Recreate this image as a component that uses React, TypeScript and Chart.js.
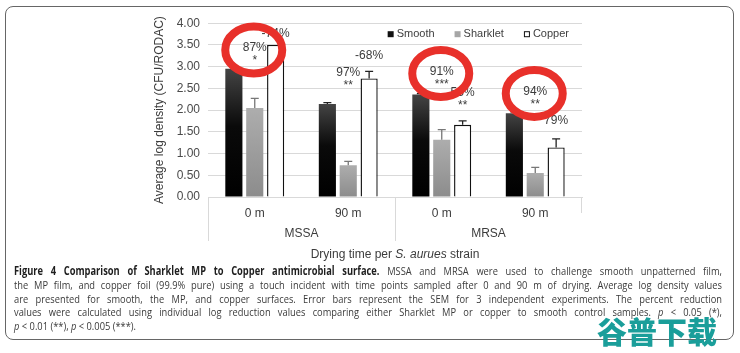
import React, { useEffect, useRef } from "react";
import { Chart, registerables } from "chart.js";

Chart.register(...registerables);

const FONT = "'Liberation Sans', Arial, Helvetica, sans-serif";

// ---------- data ----------
const categories = ["0 m", "90 m", "0 m", "90 m"];
const strains = ["MSSA", "MRSA"];
const seriesNames = ["Smooth", "Sharklet", "Copper"];

const smooth = [2.95, 2.14, 2.36, 1.93];
const smoothErr = [0.04, 0.03, 0.02, 0.03];
const sharklet = [2.05, 0.73, 1.32, 0.55];
const sharkletErr = [0.22, 0.09, 0.23, 0.13];
const copper = [3.5, 2.73, 1.66, 1.14];
const copperErr = [0.0, 0.16, 0.09, 0.2];

// percent-reduction notes (text) and the axis value where each note sits
const sharkletNotes = [["87%", "*"], ["97%", "**"], ["91%", "***"], ["94%", "**"]];
const sharkletNoteLevel = [3.43, 2.86, 2.89, 2.43];
const copperNotes = [["-74%"], ["-68%"], ["53%", "**"], ["79%"]];
const copperNoteLevel = [3.75, 3.25, 2.39, 1.75];
const circledGroups = [0, 2, 3];

const yMin = 0;
const yMax = 4;
const yStep = 0.5;

const xTitleParts = [
  { text: "Drying time per ", italic: false },
  { text: "S. aurues", italic: true },
  { text: " strain", italic: false },
];

const captionLines = [
  [
    { b: true, t: "Figure 4 Comparison of Sharklet MP to Copper antimicrobial surface." },
    { t: " MSSA and MRSA were used to challenge smooth unpatterned film," },
  ],
  [{ t: "the MP film, and copper foil (99.9% pure) using a touch incident with time points sampled after 0 and 90 m of drying. Average log density values" }],
  [{ t: "are presented for smooth, the MP, and copper surfaces. Error bars represent the SEM for 3 independent experiments. The percent reduction" }],
  [
    { t: "values were calculated using individual log reduction values comparing either Sharklet MP or copper to smooth control samples. " },
    { i: true, t: "p" },
    { t: " < 0.05 (*)," },
  ],
  [
    { i: true, t: "p" },
    { t: " < 0.01 (**), " },
    { i: true, t: "p" },
    { t: " < 0.005 (***)." },
  ],
];

// ---------- helpers ----------
function smoothFill(c: any) {
  if (c.type !== "data") return "#151515";
  const chart = c.chart;
  const ys = chart.scales && chart.scales.y;
  if (!ys) return "#151515";
  const top = ys.getPixelForValue(c.raw);
  const bot = ys.getPixelForValue(0);
  if (!isFinite(top) || !isFinite(bot) || top === bot) return "#151515";
  const g = chart.ctx.createLinearGradient(0, top, 0, bot);
  g.addColorStop(0, "#444444");
  g.addColorStop(0.45, "#0a0a0a");
  g.addColorStop(1, "#000000");
  return g;
}

function sharkletFill(c: any) {
  if (c.type !== "data") return "#a0a0a0";
  const chart = c.chart;
  const ys = chart.scales && chart.scales.y;
  if (!ys) return "#a0a0a0";
  const top = ys.getPixelForValue(c.raw);
  const bot = ys.getPixelForValue(0);
  if (!isFinite(top) || !isFinite(bot) || top === bot) return "#a0a0a0";
  const g = chart.ctx.createLinearGradient(0, top, 0, bot);
  g.addColorStop(0, "#adadad");
  g.addColorStop(1, "#8c8c8c");
  return g;
}

const legendFills = ["#111111", "#a6a6a6", "#ffffff"];

const decorPlugin = {
  id: "decor",
  afterDatasetsDraw(chart: any) {
    const ctx = chart.ctx;
    const ys = chart.scales.y;
    const errs = [smoothErr, sharkletErr, copperErr];
    const colors = ["#222222", "#777777", "#222222"];
    chart.data.datasets.forEach((ds: any, di: number) => {
      const meta = chart.getDatasetMeta(di);
      meta.data.forEach((bar: any, i: number) => {
        const e = errs[di][i];
        if (!e) return;
        const v = ds.data[i];
        const x = bar.x;
        const y0 = ys.getPixelForValue(v);
        const y1 = ys.getPixelForValue(v + e);
        ctx.save();
        ctx.strokeStyle = colors[di];
        ctx.lineWidth = 1.3;
        ctx.beginPath();
        ctx.moveTo(x, y0);
        ctx.lineTo(x, y1);
        ctx.moveTo(x - 4, y1);
        ctx.lineTo(x + 4, y1);
        ctx.stroke();
        ctx.restore();
      });
    });
  },
  afterDraw(chart: any) {
    const ctx = chart.ctx;
    const ys = chart.scales.y;
    const xs = chart.scales.x;
    const x2 = chart.scales.x2;
    const area = chart.chartArea;

    // legend (right aligned, inside the plot area)
    ctx.save();
    ctx.font = `11px ${FONT}`;
    ctx.textBaseline = "middle";
    ctx.textAlign = "left";
    const names = chart.data.datasets.map((d: any) => d.label as string);
    const box = 6;
    const gapBox = 3;
    const gapItem = 20;
    const widths = names.map((n: string) => box + gapBox + ctx.measureText(n).width);
    const totalW = widths.reduce((a: number, b: number) => a + b, 0) + gapItem * (names.length - 1);
    let lx = area.right - 13 - totalW;
    const ly = area.top + 11;
    names.forEach((n: string, i: number) => {
      ctx.fillStyle = legendFills[i];
      ctx.fillRect(lx, ly - box / 2, box, box);
      if (i === 2) {
        ctx.strokeStyle = "#111111";
        ctx.lineWidth = 1;
        ctx.strokeRect(lx + 0.5, ly - box / 2 + 0.5, box - 1, box - 1);
      }
      ctx.fillStyle = "#404040";
      ctx.fillText(n, lx + box + gapBox, ly);
      lx += widths[i] + gapItem;
    });
    ctx.restore();

    // notes
    const drawNotes = (di: number, notes: string[][], levels: number[]) => {
      const meta = chart.getDatasetMeta(di);
      notes.forEach((lines, i) => {
        const bar = meta.data[i];
        const y = ys.getPixelForValue(levels[i]);
        ctx.save();
        ctx.fillStyle = "#3c3c3c";
        ctx.font = `12px ${FONT}`;
        ctx.textAlign = "center";
        ctx.textBaseline = "middle";
        lines.forEach((t, li) => {
          ctx.fillText(t, bar.x, y + li * 13);
        });
        ctx.restore();
      });
    };
    drawNotes(1, sharkletNotes, sharkletNoteLevel);
    drawNotes(2, copperNotes, copperNoteLevel);

    // red circles
    const sm = chart.getDatasetMeta(1);
    circledGroups.forEach((g) => {
      const bar = sm.data[g];
      const cx = bar.x - 1;
      const cy = ys.getPixelForValue(sharkletNoteLevel[g]) + 2;
      ctx.save();
      ctx.strokeStyle = "#e8302a";
      ctx.lineWidth = 8;
      ctx.beginPath();
      ctx.ellipse(cx, cy, 28.5, 23.5, 0, 0, Math.PI * 2);
      ctx.stroke();
      ctx.restore();
    });

    // group separators on the category axis
    const mid = (xs.getPixelForValue(1) + xs.getPixelForValue(2)) / 2;
    ctx.save();
    ctx.strokeStyle = "#d9d9d9";
    ctx.lineWidth = 1;
    ctx.beginPath();
    ctx.moveTo(xs.left + 0.5, xs.top);
    ctx.lineTo(xs.left + 0.5, x2.bottom - 4);
    ctx.moveTo(Math.round(mid) + 0.5, xs.top);
    ctx.lineTo(Math.round(mid) + 0.5, x2.bottom - 4);
    ctx.moveTo(xs.right - 0.5, xs.top);
    ctx.lineTo(xs.right - 0.5, xs.bottom - 10);
    ctx.stroke();
    ctx.restore();

    // x axis title with italic part
    ctx.save();
    ctx.fillStyle = "#3c3c3c";
    ctx.textBaseline = "middle";
    ctx.textAlign = "left";
    const tw = xTitleParts.map((p) => {
      ctx.font = `${p.italic ? "italic " : ""}12px ${FONT}`;
      return ctx.measureText(p.text).width;
    });
    const total = tw.reduce((a, b) => a + b, 0);
    let cx = (area.left + area.right) / 2 - total / 2;
    const ty = x2.bottom + 10;
    xTitleParts.forEach((p, i) => {
      ctx.font = `${p.italic ? "italic " : ""}12px ${FONT}`;
      ctx.fillText(p.text, cx, ty);
      cx += tw[i];
    });
    ctx.restore();
  },
};

export default function App() {
  const canvasRef = useRef<HTMLCanvasElement>(null);

  useEffect(() => {
    const canvas = canvasRef.current;
    if (!canvas) return;
    Chart.defaults.font.family = FONT;
    const chart = new Chart(canvas, {
      type: "bar",
      data: {
        labels: categories,
        datasets: [
          {
            label: seriesNames[0],
            data: smooth,
            backgroundColor: smoothFill as any,
            borderWidth: 0,
          },
          {
            label: seriesNames[1],
            data: sharklet,
            backgroundColor: sharkletFill as any,
            borderWidth: 0,
          },
          {
            label: seriesNames[2],
            data: copper,
            backgroundColor: "#ffffff",
            borderColor: "#111111",
            borderWidth: 1.4,
          },
        ],
      },
      options: {
        animation: false,
        responsive: true,
        maintainAspectRatio: false,
        datasets: {
          bar: { categoryPercentage: 0.67, barPercentage: 0.82 },
        },
        layout: { padding: { left: 8, right: 18, top: 13, bottom: 21 } },
        plugins: {
          legend: { display: false },
          tooltip: { enabled: false },
        },
        scales: {
          x: {
            type: "category",
            position: "bottom",
            grid: { display: false, drawTicks: false },
            border: { display: true, color: "#d9d9d9" },
            ticks: { color: "#3c3c3c", font: { size: 12 }, padding: 9 },
            afterFit: (s: any) => {
              s.height = 26;
            },
          },
          x2: {
            type: "category",
            position: "bottom",
            labels: strains,
            offset: true,
            grid: { display: false, drawTicks: false },
            border: { display: false },
            ticks: { color: "#3c3c3c", font: { size: 12 }, padding: 3 },
            afterFit: (s: any) => {
              s.height = 22;
            },
          },
          y: {
            min: yMin,
            max: yMax,
            ticks: {
              stepSize: yStep,
              color: "#4a4a4a",
              font: { size: 12 },
              padding: 8,
              callback: (v: any) => Number(v).toFixed(2),
            },
            grid: { color: "#d9d9d9", drawTicks: false },
            border: { display: false },
            title: {
              display: true,
              text: "Average log density (CFU/RODAC)",
              color: "#3c3c3c",
              font: { size: 12 },
            },
            afterFit: (s: any) => {
              s.width = 60;
            },
          },
        },
      },
      plugins: [decorPlugin],
    });
    return () => chart.destroy();
  }, []);

  const capScale = 0.81;
  const capWidth = 708 / capScale;

  return (
    <div
      style={{
        position: "absolute",
        left: 0,
        top: 0,
        width: 740,
        height: 353,
        background: "#ffffff",
        overflow: "hidden",
      }}
    >
      <div
        style={{
          position: "absolute",
          left: 5,
          top: 6,
          width: 729,
          height: 334,
          boxSizing: "border-box",
          border: "1.5px solid #666",
          borderRadius: 8,
        }}
      />
      <div style={{ position: "absolute", left: 140, top: 8, width: 460, height: 258 }}>
        <canvas ref={canvasRef} />
      </div>
      <div
        style={{
          position: "absolute",
          left: 14,
          top: 264,
          width: capWidth,
          transform: `scaleX(${capScale})`,
          transformOrigin: "0 0",
          fontFamily: "'Open Sans', sans-serif",
          fontSize: 11.5,
          lineHeight: "13.8px",
          color: "#3a3a3a",
        }}
      >
        {captionLines.map((line, li) => (
          <div
            key={li}
            style={{
              whiteSpace: "nowrap",
              textAlign: "justify",
              textAlignLast: li < captionLines.length - 1 ? "justify" : "left",
            }}
          >
            {line.map((seg: any, si) => (
              <span
                key={si}
                style={{
                  fontWeight: seg.b ? 700 : 400,
                  fontStyle: seg.i ? "italic" : "normal",
                  color: seg.b ? "#1e1e1e" : undefined,
                }}
              >
                {seg.t}
              </span>
            ))}
          </div>
        ))}
      </div>
      <div
        style={{
          position: "absolute",
          left: 597,
          top: 313,
          fontFamily: "'Noto Sans CJK SC', sans-serif",
          fontWeight: 900,
          fontSize: 30,
          lineHeight: "34px",
          color: "#1a9e9a",
          letterSpacing: 0,
        }}
      >
        谷普下载
      </div>
    </div>
  );
}
